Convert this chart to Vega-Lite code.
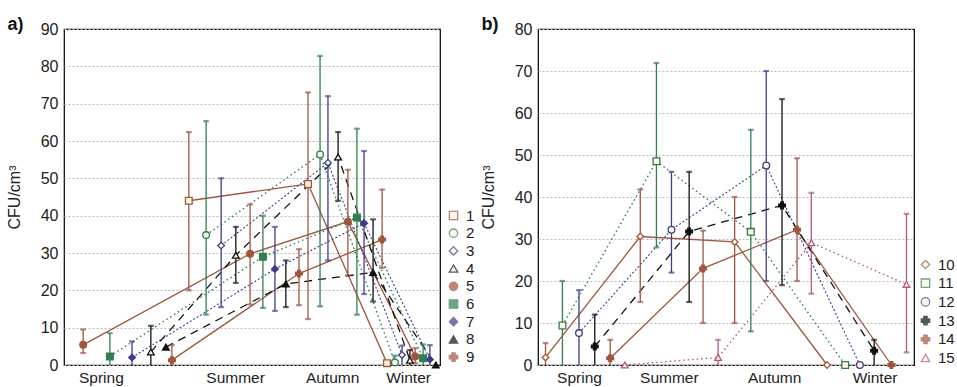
{
  "$schema": "https://vega.github.io/schema/vega-lite/v6.json",
  "padding": {"left": 5, "top": 14, "right": 0, "bottom": 0},
  "bounds": "flush",
  "spacing": 98,
  "background": "white",
  "config": {
    "font": "Liberation Sans",
    "view": {"stroke": "#000000", "strokeWidth": 1.2},
    "axis": {"labelFont": "Liberation Sans", "labelFontSize": 16, "labelColor": "#222222", "titleFont": "Liberation Sans", "titleFontSize": 16, "titleFontWeight": "normal", "titleColor": "#222222", "domain": false, "ticks": false, "gridColor": "#bbbbbb", "gridDash": [2, 2], "gridWidth": 1, "labelOverlap": false},
    "legend": {"labelFont": "Liberation Sans", "labelFontSize": 15, "labelColor": "#222222", "symbolSize": 70, "symbolStrokeWidth": 1.3, "padding": 0, "labelOffset": 5}
  },
  "resolve": {"scale": {"x": "independent", "y": "independent", "stroke": "independent", "fill": "independent", "shape": "independent"}},
  "hconcat": [
    {
      "width": 376,
      "height": 336,
      "data": {"values": [
        {"s": "1", "x": 33.2, "y": 44, "lo": 20, "hi": 62.4},
        {"s": "1", "x": 64.9, "y": 48.5, "lo": 12.3, "hi": 73},
        {"s": "1", "x": 85.9, "y": 0.5, "lo": null, "hi": null},
        {"s": "2", "x": 37.8, "y": 34.8, "lo": 13.5, "hi": 65.3},
        {"s": "2", "x": 68.1, "y": 56.4, "lo": 15.7, "hi": 82.8},
        {"s": "2", "x": 88.0, "y": 0.7, "lo": 0, "hi": 2.5},
        {"s": "3", "x": 41.8, "y": 32, "lo": 15.5, "hi": 50},
        {"s": "3", "x": 70.2, "y": 54.2, "lo": 28, "hi": 72},
        {"s": "3", "x": 89.9, "y": 2.7, "lo": 0, "hi": 5.2},
        {"s": "4", "x": 23.1, "y": 3.5, "lo": 0, "hi": 10.5},
        {"s": "4", "x": 45.7, "y": 29.4, "lo": 22, "hi": 37},
        {"s": "4", "x": 72.9, "y": 55.7, "lo": 44, "hi": 62.4},
        {"s": "4", "x": 92.0, "y": 1.3, "lo": 0, "hi": 4},
        {"s": "5", "x": 5.1, "y": 5.4, "lo": 3.2, "hi": 9.5},
        {"s": "5", "x": 49.5, "y": 29.8, "lo": 16.2, "hi": 43},
        {"s": "5", "x": 75.5, "y": 38.4, "lo": 24, "hi": 52.3},
        {"s": "5", "x": 93.4, "y": 2.3, "lo": 0.5, "hi": 4.5},
        {"s": "6", "x": 12.2, "y": 2.3, "lo": 0, "hi": 8.5},
        {"s": "6", "x": 52.9, "y": 29, "lo": 15.3, "hi": 40},
        {"s": "6", "x": 77.9, "y": 39.5, "lo": 13.5, "hi": 63.3},
        {"s": "6", "x": 95.5, "y": 1.8, "lo": 0, "hi": 5.5},
        {"s": "7", "x": 18.1, "y": 2, "lo": 0, "hi": 6.3},
        {"s": "7", "x": 56.1, "y": 25.7, "lo": 14.5, "hi": 37},
        {"s": "7", "x": 79.8, "y": 38, "lo": 19, "hi": 57.3},
        {"s": "7", "x": 97.3, "y": 1.5, "lo": 0, "hi": 5.3},
        {"s": "8", "x": 27.1, "y": 4.8, "lo": null, "hi": null},
        {"s": "8", "x": 59.0, "y": 21.7, "lo": 15.5, "hi": 28},
        {"s": "8", "x": 82.2, "y": 24.8, "lo": 17, "hi": 39},
        {"s": "8", "x": 98.9, "y": 0, "lo": null, "hi": null},
        {"s": "9", "x": 28.7, "y": 1.3, "lo": 0, "hi": 5.3},
        {"s": "9", "x": 62.5, "y": 24.5, "lo": 16, "hi": 31},
        {"s": "9", "x": 84.6, "y": 33.6, "lo": 26, "hi": 47}
      ]},
      "encoding": {
        "x": {"field": "x", "type": "quantitative", "title": "a)", "scale": {"domain": [0, 100], "nice": false, "zero": false}, "axis": {"values": [9.8, 45.5, 71.3, 91.5], "labelExpr": "datum.value < 20 ? 'Spring' : datum.value < 50 ? 'Summer' : datum.value < 80 ? 'Autumn' : 'Winter'", "grid": false, "labelPadding": 5, "labelFontSize": 15.5, "titleX": -57, "titleY": -336, "titleAlign": "left", "titleAnchor": null, "titleBaseline": "alphabetic", "titleFontSize": 18, "titleFontWeight": "bold", "titleColor": "#111111"}},
        "y": {"field": "y", "type": "quantitative", "title": "CFU/cm³", "scale": {"domain": [0, 90], "nice": false}, "axis": {"values": [0, 10, 20, 30, 40, 50, 60, 70, 80, 90], "grid": true, "labelPadding": 6, "titlePadding": 18}},
        "stroke": {"field": "s", "type": "nominal", "title": null, "scale": {"domain": ["1", "2", "3", "4", "5", "6", "7", "8", "9"], "range": ["#A0563E", "#2F7F52", "#3F3C8C", "#111111", "#A0563E", "#2F7F52", "#3F3C8C", "#111111", "#A0563E"]}, "legend": {"orient": "none", "legendX": 382, "legendY": 179, "rowPadding": 1.7}}
      },
      "layer": [
        {
          "transform": [{"filter": "indexof(['1','5','9'], datum.s) >= 0"}],
          "mark": {"type": "line", "strokeWidth": 1.3},
          "encoding": {"detail": {"field": "s"}}
        },
        {
          "transform": [{"filter": "indexof(['2','6'], datum.s) >= 0"}],
          "mark": {"type": "line", "strokeWidth": 1.4, "strokeDash": [1.5, 3]},
          "encoding": {"detail": {"field": "s"}}
        },
        {
          "transform": [{"filter": "indexof(['3','7'], datum.s) >= 0"}],
          "mark": {"type": "line", "strokeWidth": 1.1, "strokeDash": [2, 2]},
          "encoding": {"detail": {"field": "s"}}
        },
        {
          "transform": [{"filter": "indexof(['4','8'], datum.s) >= 0"}],
          "mark": {"type": "line", "strokeWidth": 1.3, "strokeDash": [8, 6]},
          "encoding": {"detail": {"field": "s"}}
        },
        {
          "transform": [{"filter": "datum.lo != null"}],
          "mark": {"type": "rule", "strokeWidth": 1.3},
          "encoding": {
            "y": {"field": "lo", "type": "quantitative", "title": "CFU/cm³"},
            "y2": {"field": "hi"}
          }
        },
        {
          "transform": [{"filter": "datum.lo != null"}],
          "mark": {"type": "tick", "orient": "horizontal", "size": 5, "thickness": 1.2},
          "encoding": {
            "y": {"field": "hi", "type": "quantitative", "title": "CFU/cm³"}
          }
        },
        {
          "transform": [{"filter": "datum.lo != null && datum.lo > 0"}],
          "mark": {"type": "tick", "orient": "horizontal", "size": 5, "thickness": 1.2},
          "encoding": {
            "y": {"field": "lo", "type": "quantitative", "title": "CFU/cm³"}
          }
        },
        {
          "mark": {"type": "point", "filled": true, "size": 45, "strokeWidth": 1.3, "opacity": 1},
          "encoding": {
            "shape": {"field": "s", "type": "nominal", "title": null, "scale": {"domain": ["1", "2", "3", "4", "5", "6", "7", "8", "9"], "range": ["square", "circle", "diamond", "triangle-up", "circle", "square", "diamond", "triangle-up", "cross"]}},
            "fill": {"field": "s", "type": "nominal", "title": null, "scale": {"domain": ["1", "2", "3", "4", "5", "6", "7", "8", "9"], "range": ["#FFF6E2", "#FFF6E2", "#FFF6E2", "#FFF6E2", "#A0563E", "#2F7F52", "#3F3C8C", "#111111", "#A0563E"]}}
          }
        }
      ]
    },
    {
      "width": 376,
      "height": 336,
      "data": {"values": [
        {"s": "10", "x": 2.0, "y": 1.8, "lo": 0, "hi": 5.2},
        {"s": "10", "x": 27.2, "y": 30.6, "lo": 15, "hi": 41.8},
        {"s": "10", "x": 52.3, "y": 29.3, "lo": 10, "hi": 40},
        {"s": "10", "x": 76.9, "y": 0, "lo": null, "hi": null},
        {"s": "11", "x": 6.5, "y": 9.4, "lo": 0, "hi": 20},
        {"s": "11", "x": 31.5, "y": 48.5, "lo": 28, "hi": 71.9},
        {"s": "11", "x": 56.6, "y": 31.7, "lo": 8, "hi": 56},
        {"s": "11", "x": 81.7, "y": 0, "lo": null, "hi": null},
        {"s": "12", "x": 10.9, "y": 7.6, "lo": 0, "hi": 17.8},
        {"s": "12", "x": 35.5, "y": 32.2, "lo": 22, "hi": 46},
        {"s": "12", "x": 60.7, "y": 47.5, "lo": 20, "hi": 70},
        {"s": "12", "x": 85.6, "y": 0, "lo": null, "hi": null},
        {"s": "13", "x": 15.1, "y": 4.4, "lo": 0, "hi": 12},
        {"s": "13", "x": 40.2, "y": 31.8, "lo": 15, "hi": 46},
        {"s": "13", "x": 64.9, "y": 38, "lo": 19, "hi": 63.3},
        {"s": "13", "x": 89.4, "y": 3.4, "lo": 0, "hi": 6},
        {"s": "14", "x": 19.2, "y": 1.6, "lo": 0, "hi": 6},
        {"s": "14", "x": 43.9, "y": 23, "lo": 10, "hi": 32},
        {"s": "14", "x": 68.9, "y": 32.2, "lo": 20, "hi": 49.2},
        {"s": "14", "x": 94.0, "y": 0, "lo": null, "hi": null},
        {"s": "15", "x": 23.1, "y": 0, "lo": null, "hi": null},
        {"s": "15", "x": 47.9, "y": 1.8, "lo": 0, "hi": 6},
        {"s": "15", "x": 72.7, "y": 29.1, "lo": 17, "hi": 41},
        {"s": "15", "x": 98.0, "y": 19.2, "lo": 3, "hi": 36}
      ]},
      "encoding": {
        "x": {"field": "x", "type": "quantitative", "title": "b)", "scale": {"domain": [0, 100], "nice": false, "zero": false}, "axis": {"values": [10.9, 34.8, 62.8, 89.5], "labelExpr": "datum.value < 20 ? 'Spring' : datum.value < 50 ? 'Summer' : datum.value < 80 ? 'Autumn' : 'Winter'", "grid": false, "labelPadding": 5, "labelFontSize": 15.5, "titleX": -57, "titleY": -336, "titleAlign": "left", "titleAnchor": null, "titleBaseline": "alphabetic", "titleFontSize": 18, "titleFontWeight": "bold", "titleColor": "#111111"}},
        "y": {"field": "y", "type": "quantitative", "title": "CFU/cm³", "scale": {"domain": [0, 80], "nice": false}, "axis": {"values": [0, 10, 20, 30, 40, 50, 60, 70, 80], "grid": true, "labelPadding": 6, "titlePadding": 18}},
        "stroke": {"field": "s", "type": "nominal", "title": null, "scale": {"domain": ["10", "11", "12", "13", "14", "15"], "range": ["#A0563E", "#2F7F52", "#3F3C8C", "#111111", "#A0563E", "#B35A8A"]}, "legend": {"orient": "none", "legendX": 380, "legendY": 228, "rowPadding": 2.7}}
      },
      "layer": [
        {
          "transform": [{"filter": "indexof(['10','14'], datum.s) >= 0"}],
          "mark": {"type": "line", "strokeWidth": 1.3},
          "encoding": {"detail": {"field": "s"}}
        },
        {
          "transform": [{"filter": "indexof(['11','15'], datum.s) >= 0"}],
          "mark": {"type": "line", "strokeWidth": 1.4, "strokeDash": [1.5, 3]},
          "encoding": {"detail": {"field": "s"}}
        },
        {
          "transform": [{"filter": "datum.s == '12'"}],
          "mark": {"type": "line", "strokeWidth": 1.1, "strokeDash": [2, 2]},
          "encoding": {"detail": {"field": "s"}}
        },
        {
          "transform": [{"filter": "datum.s == '13'"}],
          "mark": {"type": "line", "strokeWidth": 1.3, "strokeDash": [8, 6]},
          "encoding": {"detail": {"field": "s"}}
        },
        {
          "transform": [{"filter": "datum.lo != null"}],
          "mark": {"type": "rule", "strokeWidth": 1.3},
          "encoding": {
            "y": {"field": "lo", "type": "quantitative", "title": "CFU/cm³"},
            "y2": {"field": "hi"}
          }
        },
        {
          "transform": [{"filter": "datum.lo != null"}],
          "mark": {"type": "tick", "orient": "horizontal", "size": 5, "thickness": 1.2},
          "encoding": {
            "y": {"field": "hi", "type": "quantitative", "title": "CFU/cm³"}
          }
        },
        {
          "transform": [{"filter": "datum.lo != null && datum.lo > 0"}],
          "mark": {"type": "tick", "orient": "horizontal", "size": 5, "thickness": 1.2},
          "encoding": {
            "y": {"field": "lo", "type": "quantitative", "title": "CFU/cm³"}
          }
        },
        {
          "mark": {"type": "point", "filled": true, "size": 45, "strokeWidth": 1.3, "opacity": 1},
          "encoding": {
            "shape": {"field": "s", "type": "nominal", "title": null, "scale": {"domain": ["10", "11", "12", "13", "14", "15"], "range": ["diamond", "square", "circle", "cross", "cross", "triangle-up"]}},
            "fill": {"field": "s", "type": "nominal", "title": null, "scale": {"domain": ["10", "11", "12", "13", "14", "15"], "range": ["#FFF6E2", "#FFF6E2", "#FFF6E2", "#111111", "#A0563E", "#FFF6E2"]}}
          }
        }
      ]
    }
  ]
}
